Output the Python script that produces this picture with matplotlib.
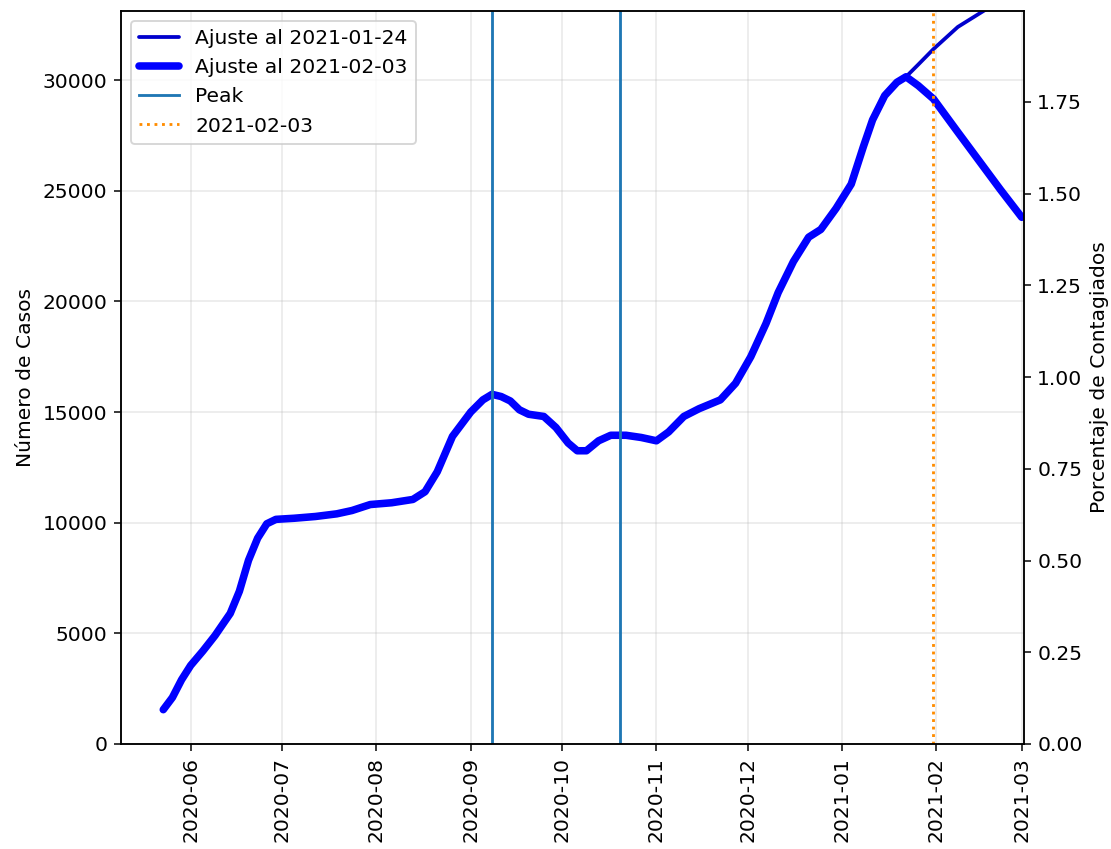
import numpy as np
import pandas as pd
import matplotlib
matplotlib.use("Agg")
import matplotlib.pyplot as plt

# Tramo comun de ambos ajustes (hasta el pico de enero)
fechas_comun = ["2020-05-23", "2020-05-26", "2020-05-29", "2020-06-01", "2020-06-05",
                "2020-06-09", "2020-06-14", "2020-06-17", "2020-06-20", "2020-06-23",
                "2020-06-26", "2020-06-29", "2020-07-05", "2020-07-12", "2020-07-19",
                "2020-07-24", "2020-07-30", "2020-08-06", "2020-08-13", "2020-08-17",
                "2020-08-21", "2020-08-26", "2020-09-01", "2020-09-05", "2020-09-08",
                "2020-09-11", "2020-09-14", "2020-09-17", "2020-09-20", "2020-09-25",
                "2020-09-29", "2020-10-03", "2020-10-06", "2020-10-09", "2020-10-13",
                "2020-10-17", "2020-10-22", "2020-10-27", "2020-11-01", "2020-11-05",
                "2020-11-10", "2020-11-15", "2020-11-22", "2020-11-27", "2020-12-02",
                "2020-12-07", "2020-12-11", "2020-12-16", "2020-12-21", "2020-12-25",
                "2020-12-30", "2021-01-04", "2021-01-08", "2021-01-11", "2021-01-15",
                "2021-01-19", "2021-01-22"]
casos_comun = [1550, 2100, 2900, 3550, 4200,
               4900, 5900, 6900, 8300, 9300,
               9950, 10150, 10200, 10280, 10400,
               10550, 10820, 10900, 11050, 11400,
               12300, 13900, 15000, 15550, 15800,
               15700, 15500, 15100, 14900, 14800,
               14300, 13600, 13250, 13250, 13700,
               13950, 13950, 13850, 13700, 14100,
               14800, 15150, 15550, 16300, 17500,
               19000, 20400, 21800, 22900, 23250,
               24200, 25300, 27000, 28200, 29300,
               29900, 30150]

# Colas de cada ajuste
fechas_cola = ["2021-01-26", "2021-01-31", "2021-02-08", "2021-02-15", "2021-02-22", "2021-03-01"]
casos_cola_0124 = [30700, 31400, 32400, 33000, 33600, 34050]
casos_cola_0203 = [29750, 29150, 27650, 26350, 25050, 23800]

picos = ["2020-09-08", "2020-10-20"]
fecha_corte = "2021-01-31"
poblacion = 1657700

fechas = pd.to_datetime(fechas_comun + fechas_cola)
casos_0124 = casos_comun + casos_cola_0124
casos_0203 = casos_comun + casos_cola_0203

plt.rcParams['font.size'] = 10.7

fig = plt.figure(figsize=(1111/136, 849/136), dpi=136)
ax = fig.add_axes([0.1086, 0.1237, 0.8131, 0.8633])

ax.plot(fechas, casos_0124, color='mediumblue', lw=2, label='Ajuste al 2021-01-24',
        solid_joinstyle='round', solid_capstyle='round')
ax.plot(fechas, casos_0203, color='blue', lw=4, label='Ajuste al 2021-02-03',
        solid_joinstyle='round', solid_capstyle='round')
for i, p in enumerate(picos):
    ax.axvline(pd.Timestamp(p), color='tab:blue', lw=1.5, label='Peak' if i == 0 else None)
ax.axvline(pd.Timestamp(fecha_corte), color='darkorange', ls=':', lw=1.5, label='2021-02-03')

ax.set_xlim(pd.Timestamp("2020-05-09"), pd.Timestamp("2021-03-01 18:00"))
ax.set_ylim(0, 33120)
ax.set_ylabel('Número de Casos')
ax.grid(alpha=0.3)
ax.legend(loc='upper left')
plt.setp(ax.get_xticklabels(), rotation=90)

ax2 = ax.twinx()
ax2.set_ylim(0, 33120 / poblacion * 100)
ax2.set_ylabel('Porcentaje de Contagiados')

fig.savefig('out.png', dpi=136)
